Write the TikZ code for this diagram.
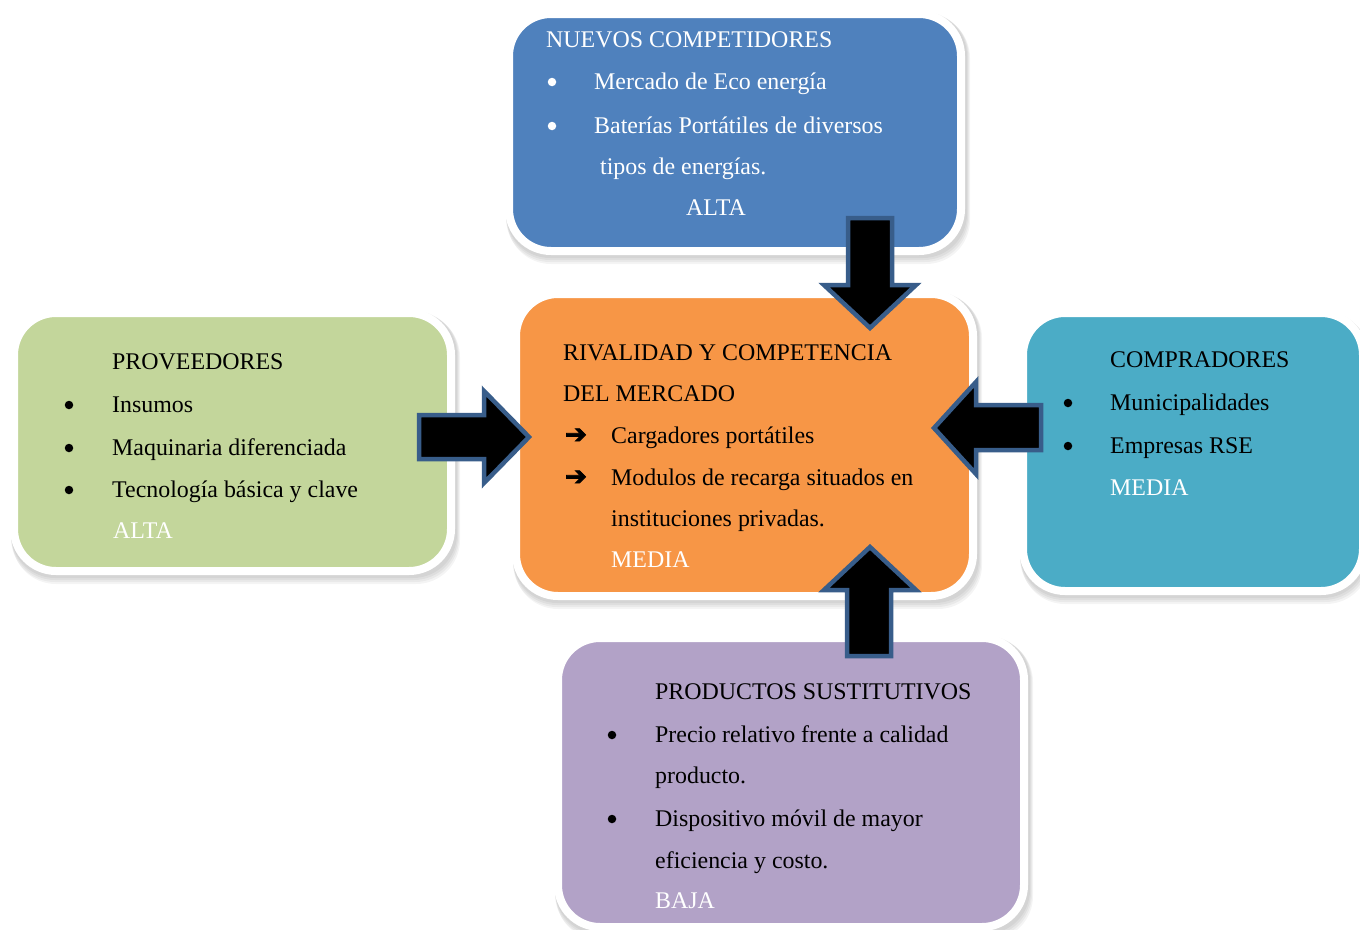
\documentclass[tikz,border=0pt]{standalone}
\usepackage{fontspec}
\setmainfont{Liberation Serif}
\newfontfamily\dejavub[FakeBold=3]{DejaVu Sans}
\definecolor{cblue}{HTML}{4F81BD}
\definecolor{corange}{HTML}{F79646}
\definecolor{cgreen}{HTML}{C3D69B}
\definecolor{cteal}{HTML}{4BACC6}
\definecolor{cpurple}{HTML}{B2A2C7}
\definecolor{arrowblue}{HTML}{385D8A}
\tikzset{
  boxw/.style={line width=8pt, draw=white, rounded corners=42pt},
  shd/.style={fill=black, opacity=0.045, rounded corners=44pt},
  txt/.style={anchor=base west, inner sep=0pt, font=\fontsize{23.9}{28}\selectfont},
  wtxt/.style={txt, text=white},
  dot/.style={circle, fill=#1, inner sep=0pt, minimum size=8.5pt},
  dot/.default=black,
  arr/.style={anchor=base, inner sep=0pt, font=\dejavub\fontsize{26}{28}\selectfont},
  blockarrow/.style={fill=black, draw=arrowblue, line width=4.5pt, line join=miter},
}
\newcommand{\shadowbox}[4]{%
  \fill[shd] (#1+1,#2+2) rectangle (#3+2,#4+3);
  \fill[shd] (#1+1,#2+2) rectangle (#3+3,#4+5);
  \fill[shd] (#1+1,#2+3) rectangle (#3+4,#4+7);
  \fill[shd] (#1+2,#2+4) rectangle (#3+5,#4+9);
}
\begin{document}
\begin{tikzpicture}[x=1pt,y=-1pt]
\useasboundingbox[fill=white] (0,0) rectangle (1360,929);
% shadows
\shadowbox{505}{10}{965}{255}
\shadowbox{512}{290}{977}{600}
\shadowbox{10}{309}{455}{575}
\shadowbox{1019}{309}{1365}{595}
\shadowbox{554}{634}{1028}{931}
% boxes
\path[boxw, fill=cblue] (509,14) rectangle (961,251);
\path[boxw, fill=corange] (516,294) rectangle (973,596);
\path[boxw, fill=cgreen] (14,313) rectangle (451,571);
\path[boxw, fill=cteal] (1023,313) rectangle (1363,591);
\path[boxw, fill=cpurple] (558,638) rectangle (1024,927);

% top box text
\node[wtxt] (n1) at (546,47) {NUEVOS COMPETIDORES};
\node[dot=white] (n1b1) at (552,82) {};
\node[wtxt] (n1i1) at (594,89) {Mercado de Eco energía};
\node[dot=white] (n1b2) at (552,126) {};
\node[wtxt] (n1i2) at (594,133) {Baterías Portátiles de diversos};
\node[wtxt] (n1i3) at (600,174) {tipos de energías.};
\node[wtxt] (n1l) at (686,215) {ALTA};

% center box text
\node[txt] (c1) at (563,360) {RIVALIDAD Y COMPETENCIA};
\node[txt] (c2) at (563,401) {DEL MERCADO};
\node[arr] (ca1) at (576,443) {➔};
\node[txt] (ci1) at (611,443) {Cargadores portátiles};
\node[arr] (ca2) at (576,485) {➔};
\node[txt] (ci2) at (611,485) {Modulos de recarga situados en};
\node[txt] (ci3) at (611,526) {instituciones privadas.};
\node[wtxt] (cl) at (611,567) {MEDIA};

% left box text
\node[txt] (p1) at (112,369) {PROVEEDORES};
\node[dot] (pb1) at (69,405) {};
\node[txt] (pi1) at (112,412) {Insumos};
\node[dot] (pb2) at (69,448) {};
\node[txt] (pi2) at (112,455) {Maquinaria diferenciada};
\node[dot] (pb3) at (69,490) {};
\node[txt] (pi3) at (112,497) {Tecnología básica y clave};
\node[wtxt] (pl) at (113,538) {ALTA};

% right box text
\node[txt] (r1) at (1110,367) {COMPRADORES};
\node[dot] (rb1) at (1068,403) {};
\node[txt] (ri1) at (1110,410) {Municipalidades};
\node[dot] (rb2) at (1068,446) {};
\node[txt] (ri2) at (1110,453) {Empresas RSE};
\node[wtxt] (rl) at (1110,495) {MEDIA};

% bottom box text
\node[txt] (s1) at (655,699) {PRODUCTOS SUSTITUTIVOS};
\node[dot] (sb1) at (612,735) {};
\node[txt] (si1) at (655,742) {Precio relativo frente a calidad};
\node[txt] (si2) at (655,783) {producto.};
\node[dot] (sb2) at (612,819) {};
\node[txt] (si3) at (655,826) {Dispositivo móvil de mayor};
\node[txt] (si4) at (655,868) {eficiencia y costo.};
\node[wtxt] (sl) at (655,908) {BAJA};

% block arrows
\draw[blockarrow] (848,218) -- (892,218) -- (892,285) -- (916,285) -- (870,328) -- (824,285) -- (848,285) -- cycle;
\draw[blockarrow] (419,415) -- (484,415) -- (484,391) -- (529,437) -- (484,483) -- (484,459) -- (419,459) -- cycle;
\draw[blockarrow] (1041,405) -- (976,405) -- (976,382) -- (934,428) -- (976,474) -- (976,450) -- (1041,450) -- cycle;
\draw[blockarrow] (847,656) -- (847,590) -- (824,590) -- (870,547) -- (916,590) -- (891,590) -- (891,656) -- cycle;
\end{tikzpicture}
\end{document}
